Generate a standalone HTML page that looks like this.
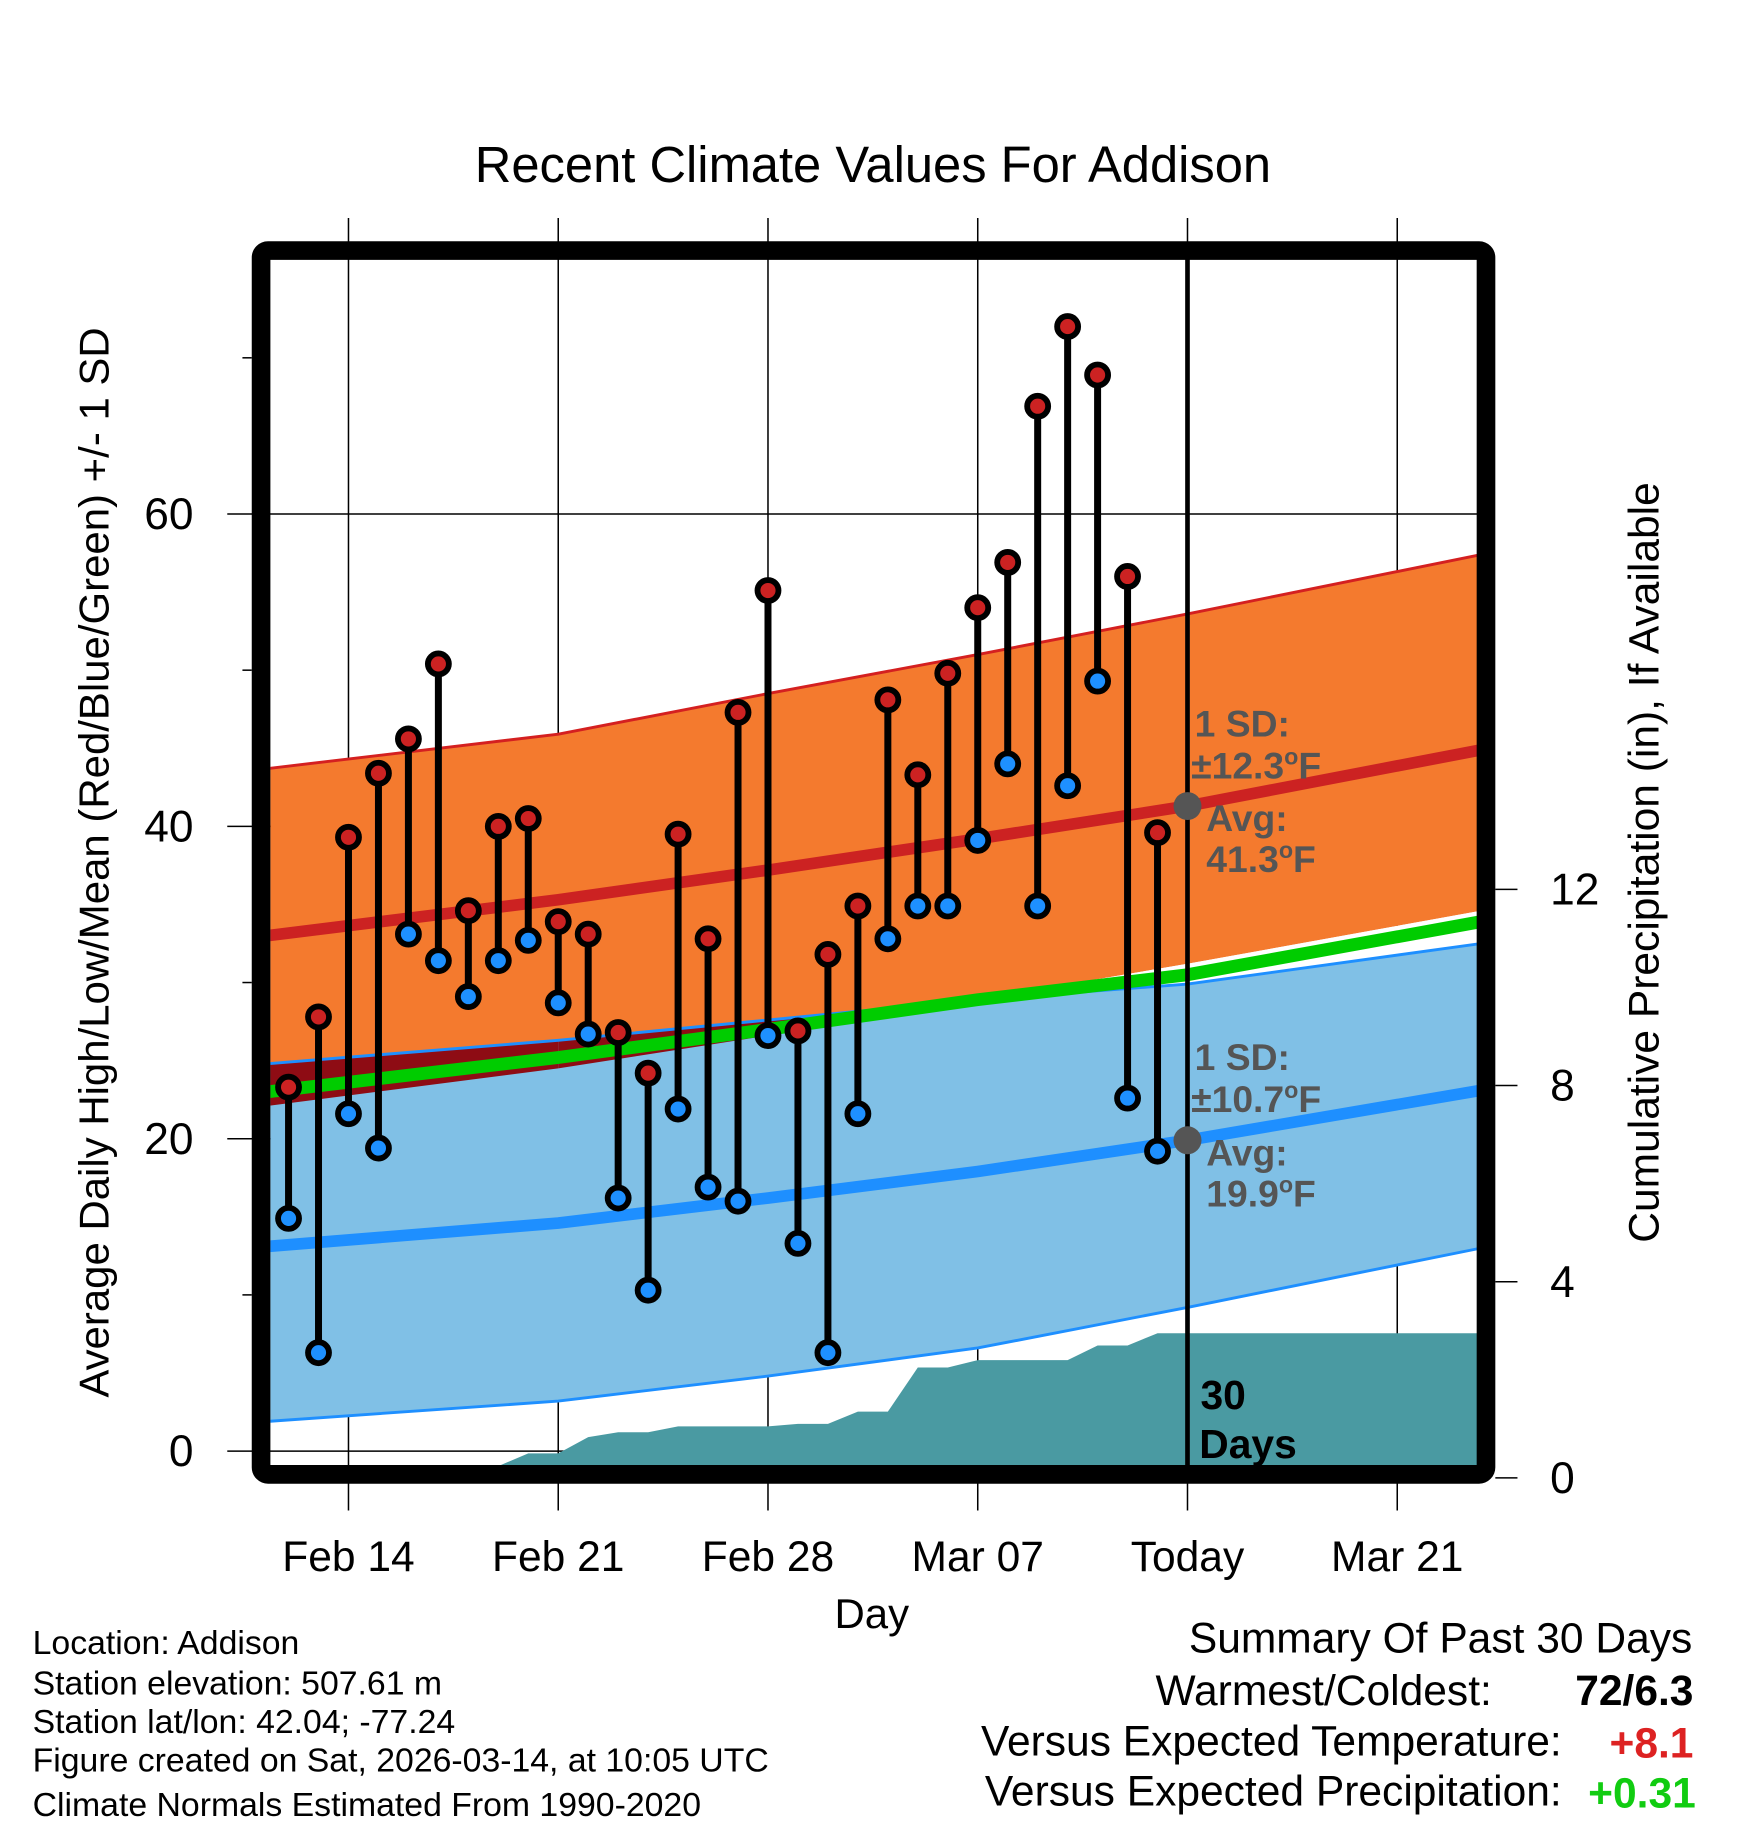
<!DOCTYPE html>
<html><head><meta charset="utf-8"><style>html,body{margin:0;padding:0;background:#fff}svg{display:block}text{font-family:"Liberation Sans",sans-serif}</style></head>
<body>
<svg id="chart" width="1748" height="1828" viewBox="0 0 1499.8 1568.4" preserveAspectRatio="none" xmlns="http://www.w3.org/2000/svg">
<defs><clipPath id="clip"><rect x="232" y="223" width="1036" height="1035"/></clipPath></defs>
<text x="749" y="156" font-size="43.5" text-anchor="middle">Recent Climate Values For Addison</text>
<g id="grid"></g>
<g id="plot" clip-path="url(#clip)"></g>
<g id="marks"></g>
<rect x="224" y="215" width="1051" height="1050" rx="6" fill="none" stroke="#000" stroke-width="16"/>
<g id="axes"></g>
<text transform="translate(93,740) rotate(-90)" font-size="36" text-anchor="middle">Average Daily High/Low/Mean (Red/Blue/Green) +/- 1 SD</text>
<text transform="translate(1423,740) rotate(-90)" font-size="36.5" text-anchor="middle">Cumulative Precipitation (in), If Available</text>
<text x="748" y="1397" font-size="36" text-anchor="middle">Day</text>
<g font-size="29">
<text x="28" y="1419">Location: Addison</text>
<text x="28" y="1454">Station elevation: 507.61 m</text>
<text x="28" y="1487">Station lat/lon: 42.04; -77.24</text>
<text x="28" y="1520">Figure created on Sat, 2026-03-14, at 10:05 UTC</text>
<text x="28" y="1558">Climate Normals Estimated From 1990-2020</text>
</g>
<g font-size="36.5">
<text x="1452" y="1418" text-anchor="end">Summary Of Past 30 Days</text>
<text x="1280" y="1463" text-anchor="end">Warmest/Coldest:</text>
<text x="1453" y="1463" text-anchor="end" font-weight="bold">72/6.3</text>
<text x="1340" y="1506" text-anchor="end">Versus Expected Temperature:</text>
<text x="1453" y="1508" text-anchor="end" font-weight="bold" fill="#d22">+8.1</text>
<text x="1340" y="1549" text-anchor="end">Versus Expected Precipitation:</text>
<text x="1455" y="1551" text-anchor="end" font-weight="bold" fill="#1c1">+0.31</text>
</g>
<g font-weight="bold" fill="#555" font-size="32">
<text x="1025" y="632">1 SD:</text>
<text x="1022" y="668">±12.3<tspan dy="-12" font-size="20">o</tspan><tspan dy="12">F</tspan></text>
<text x="1035" y="713">Avg:</text>
<text x="1035" y="748">41.3<tspan dy="-12" font-size="20">o</tspan><tspan dy="12">F</tspan></text>
<text x="1025" y="918">1 SD:</text>
<text x="1022" y="954">±10.7<tspan dy="-12" font-size="20">o</tspan><tspan dy="12">F</tspan></text>
<text x="1035" y="1000">Avg:</text>
<text x="1035" y="1035">19.9<tspan dy="-12" font-size="20">o</tspan><tspan dy="12">F</tspan></text>
<text x="1030" y="1209" fill="#000" font-size="35">30</text>
<text x="1029" y="1251" fill="#000" font-size="35">Days</text>
</g>
<script>
const highs=[23.3,27.8,39.3,43.4,45.6,50.4,34.6,40.0,40.5,33.9,33.1,26.8,24.2,39.5,32.8,47.3,55.1,26.9,31.8,34.9,48.1,43.3,49.8,54.0,56.9,66.9,72.0,68.9,56.0,39.6];
const lows=[14.9,6.3,21.6,19.4,33.1,31.4,29.1,31.4,32.7,28.7,26.7,16.2,10.3,21.9,16.9,16.0,26.6,13.3,6.3,21.6,32.8,34.9,34.9,39.1,44.0,34.9,42.6,49.3,22.6,19.2];
const precip=[0,0,0,0,0,0,0.22,0.24,0.5,0.5,0.83,0.93,0.93,1.05,1.05,1.05,1.05,1.1,1.1,1.35,1.35,2.25,2.25,2.4,2.4,2.4,2.4,2.7,2.7,2.95];
const normDays=[-2.7,7,14,21,28,37.8];
const highAvg=[33.0,35.3,37.2,39.2,41.3,44.9];
const highUpper=[43.7,45.9,48.5,51.0,53.6,57.4];
const highLower=[22.1,24.5,26.6,28.9,31.2,34.6];
const lowAvg=[13.1,14.6,16.2,17.9,19.9,23.1];
const lowUpper=[24.8,26.3,27.6,28.9,29.9,32.5];
const lowLower=[1.9,3.2,4.8,6.6,9.2,13.0];
const meanLine=[23.0,25.2,27.0,28.9,30.5,33.9];
const xTickDays=[0,7,14,21,28,35];
const xTickLabels=["Feb 14","Feb 21","Feb 28","Mar 07","Today","Mar 21"];
const yTicks=[0,20,40,60];
const yMinor=[10,30,50,70];
const pTicks=[0,4,8,12];
const firstDay=-2;
const todayDay=28;

const NS="http://www.w3.org/2000/svg";
function xD(d){return 299+d*25.71;}
function yT(v){return 1245-v*13.4;}
function yP(p){return 1268-p*42.08;}
function mk(tag,attrs,parent,txt){const e=document.createElementNS(NS,tag);for(const k in attrs)e.setAttribute(k,attrs[k]);if(txt!==undefined)e.textContent=txt;parent.appendChild(e);return e;}
const grid=document.getElementById('grid');
const plot=document.getElementById('plot');
const marks=document.getElementById('marks');
const axes=document.getElementById('axes');
xTickDays.forEach(function(d,i){
const l=mk('line',{x1:xD(d),x2:xD(d),y1:187,y2:1296,stroke:'#000','stroke-width':1.3},grid);


const t=mk('text',{x:xD(d),y:1348,'font-size':36.5,'text-anchor':'middle'},axes,xTickLabels[i]);


});
yTicks.forEach(function(v){
const l=mk('line',{x1:195,x2:1268,y1:yT(v),y2:yT(v),stroke:'#000','stroke-width':1.3},grid);


const t=mk('text',{x:166,y:yT(v)+13,'font-size':38,'text-anchor':'end'},axes,String(v));


});
yMinor.forEach(function(v){mk('line',{x1:208,x2:216,y1:yT(v),y2:yT(v),stroke:'#000','stroke-width':1.3},axes);});
pTicks.forEach(function(p){
mk('line',{x1:1283,x2:1302,y1:yP(p),y2:yP(p),stroke:'#000','stroke-width':1.3},axes);
const t=mk('text',{x:1330,y:yP(p)+13,'font-size':38,'text-anchor':'start'},axes,String(p));


});
function pts(arr){return normDays.map(function(d,i){return xD(d)+','+yT(arr[i]);});}
function band(up,lo,fill,name){
const e=mk('polygon',{points:pts(up).concat(pts(lo).reverse()).join(' '),fill:fill},plot);


}
function line(arr,col,w,name){
const e=mk('polyline',{points:pts(arr).join(' '),fill:'none',stroke:col,'stroke-width':w},plot);


}
band(highUpper,highLower,'#f47a2e','high-sd-band');
line(highUpper,'#d42020',2.5,'high-upper-line');
line(highAvg,'#cc2222',10,'high-avg-line');
band(lowUpper,lowLower,'#80c0e6','low-sd-band');
normDays.slice(0,-1).forEach(function(d,i){
const s=(lowUpper[i]-highLower[i])+(lowUpper[i+1]-highLower[i+1]);
const col=s>=0?'#8e0c14':'#ffffff';
const p=[xD(d)+','+yT(lowUpper[i]),xD(normDays[i+1])+','+yT(lowUpper[i+1]),xD(normDays[i+1])+','+yT(highLower[i+1]),xD(d)+','+yT(highLower[i])];
const e=mk('polygon',{points:p.join(' '),fill:col},plot);


});
line(lowUpper,'#1e8fff',2.5,'low-upper-line');
line(meanLine,'#00cc00',11,'mean-line');
line(lowLower,'#1e8fff',2.5,'low-lower-line');
line(lowAvg,'#1e8fff',10,'low-avg-line');
const pp=[xD(-2.7)+','+yP(0)];
precip.forEach(function(v,i){pp.push(xD(firstDay+i)+','+yP(v));});
pp.push(xD(37.8)+','+yP(precip[precip.length-1]));
pp.push(xD(37.8)+','+yP(-0.5));
pp.push(xD(-2.7)+','+yP(-0.5));
const pa=mk('polygon',{points:pp.join(' '),fill:'#4a9aa2'},plot);


const tl=mk('line',{x1:xD(todayDay),x2:xD(todayDay),y1:215,y2:1265,stroke:'#000','stroke-width':4},marks);


highs.forEach(function(h,i){
const x=xD(firstDay+i);
const s=mk('line',{x1:x,x2:x,y1:yT(h),y2:yT(lows[i]),stroke:'#000','stroke-width':6},marks);


const c1=mk('circle',{cx:x,cy:yT(h),r:9,fill:'#cc2222',stroke:'#000','stroke-width':5},marks);


const c2=mk('circle',{cx:x,cy:yT(lows[i]),r:9,fill:'#1e90ff',stroke:'#000','stroke-width':5},marks);


});
[highAvg[4],lowAvg[4]].forEach(function(v){
const c=mk('circle',{cx:xD(todayDay),cy:yT(v),r:12,fill:'#555'},marks);


});
</script>
</svg>
</body></html>
